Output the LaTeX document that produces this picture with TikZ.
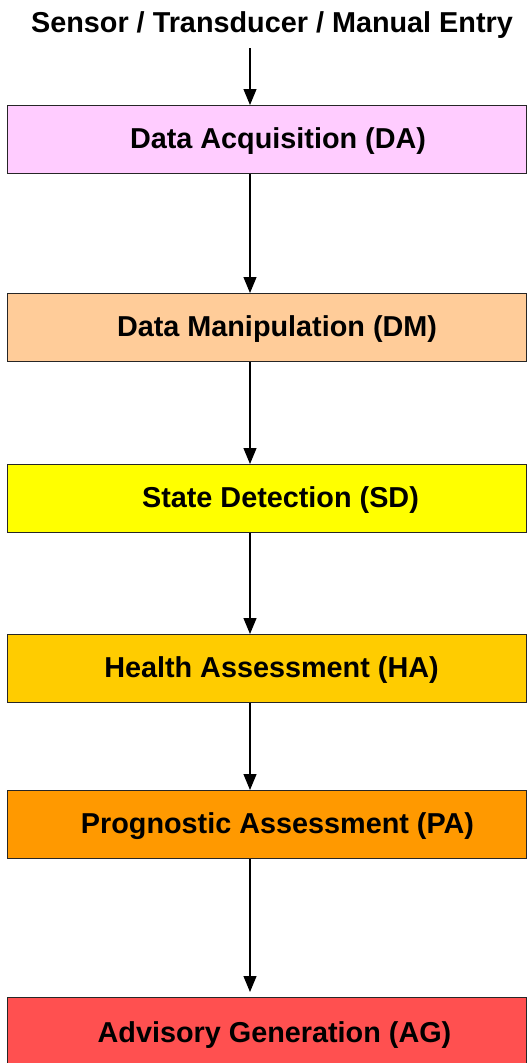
\documentclass[tikz,border=0pt]{standalone}
\usepackage{fontspec}
\setmainfont{Liberation Sans}
\usetikzlibrary{arrows.meta}
\definecolor{cDA}{HTML}{FFCCFF}
\definecolor{cDM}{HTML}{FFCC99}
\definecolor{cSD}{HTML}{FFFF00}
\definecolor{cHA}{HTML}{FFCC00}
\definecolor{cPA}{HTML}{FF9900}
\definecolor{cAG}{HTML}{FF5050}
\tikzset{
  stagebox/.style={draw=black!85, line width=1pt, anchor=north west,
    minimum width=519pt, minimum height=68pt, inner sep=0pt,
    text height=20pt, text depth=3pt,
    font=\fontsize{28.8pt}{30pt}\selectfont\bfseries},
  flow/.style={line width=1.2pt, -{Triangle[width=13pt,length=16pt]}},
  title/.style={anchor=base, inner sep=0pt, font=\fontsize{28.8pt}{30pt}\selectfont\bfseries}
}
\begin{document}
\begin{tikzpicture}[x=1pt,y=-1pt]
\clip (0,0) rectangle (527,1063);
\useasboundingbox (0,0) rectangle (527,1063);
\fill[white] (0,0) rectangle (527,1063);
\node[title] (src) at (272,32) {Sensor / Transducer / Manual Entry};
\node[stagebox, fill=cDA] (DA) at (7,105) {\hspace*{22pt}Data Acquisition (DA)};
\node[stagebox, fill=cDM] (DM) at (7,293) {\hspace*{20pt}Data Manipulation (DM)};
\node[stagebox, fill=cSD] (SD) at (7,464) {\hspace*{27pt}State Detection (SD)};
\node[stagebox, fill=cHA] (HA) at (7,634) {\hspace*{9pt}Health Assessment (HA)};
\node[stagebox, fill=cPA] (PA) at (7,790) {\hspace*{21pt}Prognostic Assessment (PA)};
\node[stagebox, fill=cAG, minimum height=90pt, text height=15pt, text depth=15pt] (AG) at (7,997) {\hspace*{15pt}Advisory Generation (AG)};
\coordinate (s0) at (250,48);
\draw[flow] (s0) -- (s0 |- DA.north);
\draw[flow] (DA.south -| s0) -- (s0 |- DM.north);
\draw[flow] (DM.south -| s0) -- (s0 |- SD.north);
\draw[flow] (SD.south -| s0) -- (s0 |- HA.north);
\draw[flow] (HA.south -| s0) -- (s0 |- PA.north);
\coordinate (agtip) at (250,992);
\draw[flow] (PA.south -| s0) -- (agtip);
\end{tikzpicture}
\end{document}
